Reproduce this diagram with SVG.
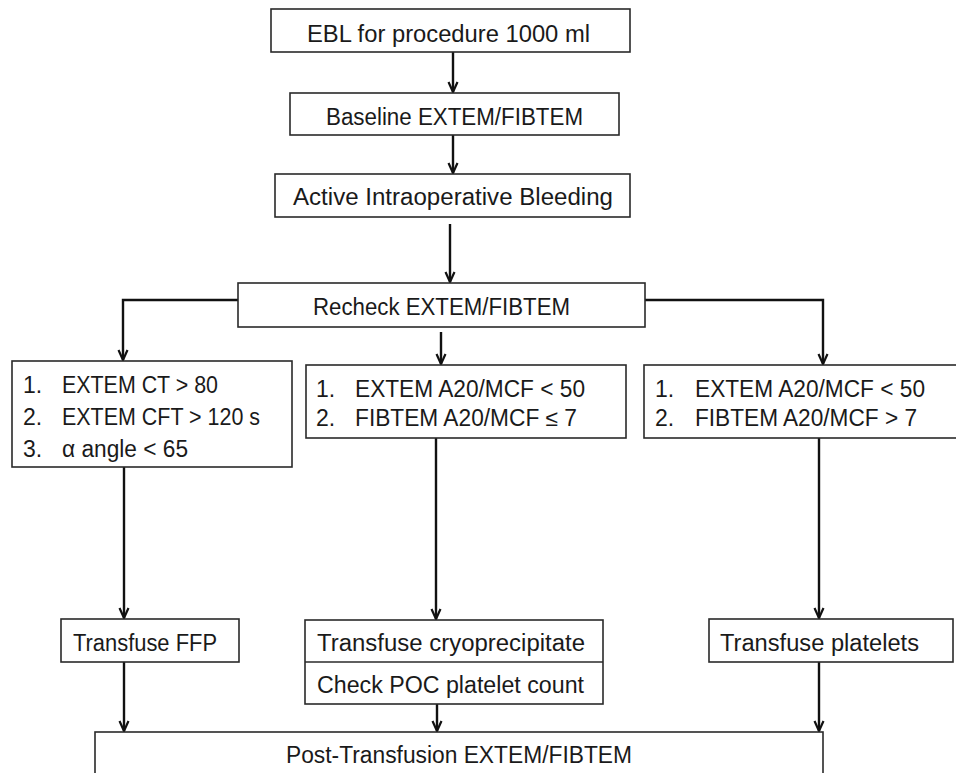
<svg xmlns="http://www.w3.org/2000/svg" width="956" height="773" viewBox="0 0 956 773">
<style>
.box{fill:#fff;stroke:#2a2a2a;stroke-width:1.6}
.t{font-family:"Liberation Sans",Arial,sans-serif;font-size:23px;fill:#1a1a1a}
.con{fill:none;stroke:#111;stroke-width:2.4}
</style>
<defs>
<marker id="ah" viewBox="0 0 12 12" refX="11" refY="6" markerWidth="12" markerHeight="12" markerUnits="userSpaceOnUse" orient="auto">
<path d="M1,1.5 L11,6 L1,10.5" fill="none" stroke="#111" stroke-width="2.2"/>
</marker>
</defs>
<rect width="956" height="773" fill="#fff"/>
<g id="connectors">
<line class="con" x1="453" y1="52" x2="453" y2="92" marker-end="url(#ah)"/>
<line class="con" x1="453" y1="135" x2="453" y2="173" marker-end="url(#ah)"/>
<line class="con" x1="450" y1="224" x2="450" y2="282" marker-end="url(#ah)"/>
<path class="con" d="M238,300 H123 V360" marker-end="url(#ah)"/>
<line class="con" x1="441" y1="332" x2="441" y2="364" marker-end="url(#ah)"/>
<path class="con" d="M645,300 H823 V364" marker-end="url(#ah)"/>
<line class="con" x1="124" y1="467" x2="124" y2="618" marker-end="url(#ah)"/>
<line class="con" x1="436" y1="438" x2="436" y2="619" marker-end="url(#ah)"/>
<line class="con" x1="819" y1="438" x2="819" y2="618" marker-end="url(#ah)"/>
<line class="con" x1="124" y1="662" x2="124" y2="731" marker-end="url(#ah)"/>
<line class="con" x1="437" y1="704" x2="437" y2="731" marker-end="url(#ah)"/>
<line class="con" x1="819" y1="662" x2="819" y2="731" marker-end="url(#ah)"/>
</g>
<g id="ebl">
<rect class="box" x="271" y="9" width="359" height="43"/>
<text class="t" x="307" y="42" textLength="283" lengthAdjust="spacingAndGlyphs">EBL for procedure 1000 ml</text>
</g>
<g id="baseline">
<rect class="box" x="290" y="93" width="329" height="42"/>
<text class="t" x="326" y="125" textLength="257" lengthAdjust="spacingAndGlyphs">Baseline EXTEM/FIBTEM</text>
</g>
<g id="active">
<rect class="box" x="275" y="174" width="355" height="43"/>
<text class="t" x="293" y="205" textLength="320" lengthAdjust="spacingAndGlyphs">Active Intraoperative Bleeding</text>
</g>
<g id="recheck">
<rect class="box" x="238" y="283" width="407" height="44"/>
<text class="t" x="313" y="315" textLength="257" lengthAdjust="spacingAndGlyphs">Recheck EXTEM/FIBTEM</text>
</g>
<g id="left-criteria">
<rect class="box" x="12" y="361" width="280" height="106"/>
<text class="t" x="23" y="393">1.</text>
<text class="t" x="62" y="393" textLength="156" lengthAdjust="spacingAndGlyphs">EXTEM CT &gt; 80</text>
<text class="t" x="23" y="425">2.</text>
<text class="t" x="62" y="425" textLength="198" lengthAdjust="spacingAndGlyphs">EXTEM CFT &gt; 120 s</text>
<text class="t" x="23" y="457">3.</text>
<text class="t" x="62" y="457" textLength="126" lengthAdjust="spacingAndGlyphs">α angle &lt; 65</text>
</g>
<g id="middle-criteria">
<rect class="box" x="306" y="365" width="320" height="73"/>
<text class="t" x="316" y="397">1.</text>
<text class="t" x="355" y="397" textLength="230" lengthAdjust="spacingAndGlyphs">EXTEM A20/MCF &lt; 50</text>
<text class="t" x="316" y="426">2.</text>
<text class="t" x="355" y="426" textLength="222" lengthAdjust="spacingAndGlyphs">FIBTEM A20/MCF ≤ 7</text>
</g>
<g id="right-criteria">
<rect class="box" x="644" y="365" width="320" height="73"/>
<text class="t" x="655" y="397">1.</text>
<text class="t" x="695" y="397" textLength="230" lengthAdjust="spacingAndGlyphs">EXTEM A20/MCF &lt; 50</text>
<text class="t" x="655" y="426">2.</text>
<text class="t" x="695" y="426" textLength="222" lengthAdjust="spacingAndGlyphs">FIBTEM A20/MCF &gt; 7</text>
</g>
<g id="ffp">
<rect class="box" x="61" y="619" width="178" height="43"/>
<text class="t" x="73" y="651" textLength="144" lengthAdjust="spacingAndGlyphs">Transfuse FFP</text>
</g>
<g id="cryo">
<rect class="box" x="305" y="620" width="298" height="84"/>
<line x1="305" y1="662" x2="603" y2="662" stroke="#2a2a2a" stroke-width="1.6"/>
<text class="t" x="317" y="651" textLength="268" lengthAdjust="spacingAndGlyphs">Transfuse cryoprecipitate</text>
<text class="t" x="317" y="693" textLength="267" lengthAdjust="spacingAndGlyphs">Check POC platelet count</text>
</g>
<g id="platelets">
<rect class="box" x="709" y="619" width="244" height="43"/>
<text class="t" x="720" y="651" textLength="199" lengthAdjust="spacingAndGlyphs">Transfuse platelets</text>
</g>
<g id="post">
<rect class="box" x="95" y="732" width="728" height="60"/>
<text class="t" x="286" y="763" textLength="346" lengthAdjust="spacingAndGlyphs">Post-Transfusion EXTEM/FIBTEM</text>
</g>
</svg>
